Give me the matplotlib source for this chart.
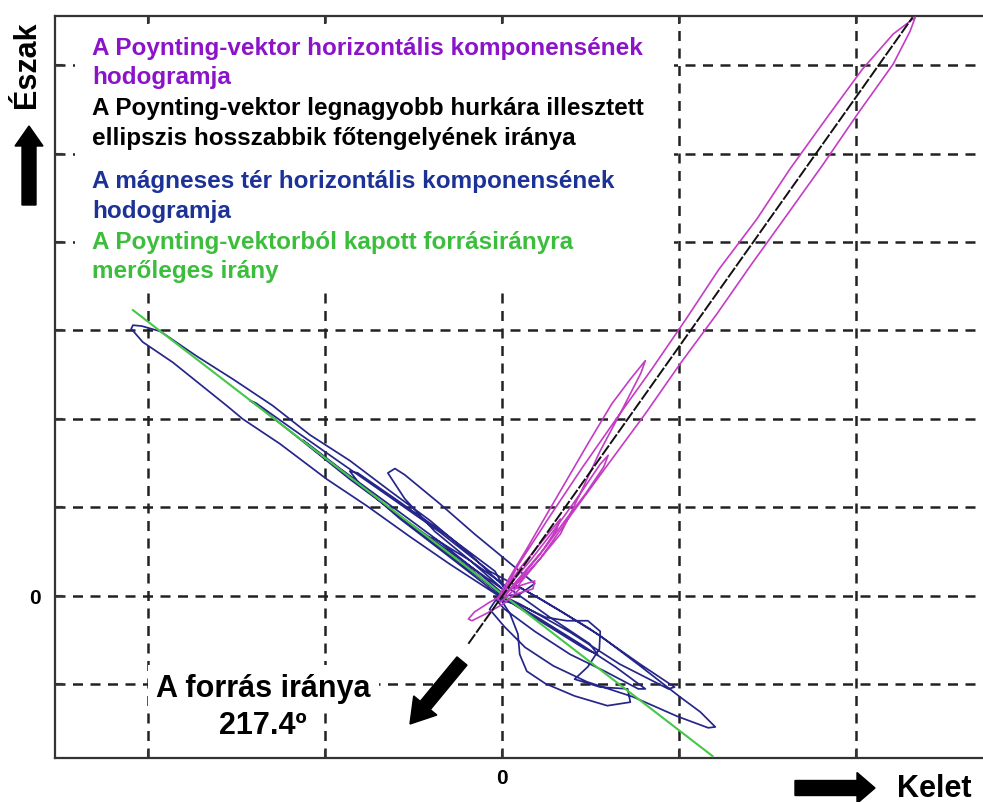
import numpy as np
import matplotlib
matplotlib.use("Agg")
import matplotlib.pyplot as plt
from matplotlib.patches import FancyArrow, Rectangle
from matplotlib.transforms import IdentityTransform

plt.rcParams['font.family'] = ['Liberation Sans', 'DejaVu Sans']

# Horizontal hodograph of the Poynting vector (east, north)
poy_east = [-0.02, 0.19, 0.52, 0.90, 1.29, 1.69, 2.08, 2.45, 2.88, 3.25, 3.66, 4.07, 4.42, 4.67,
            4.61, 4.42, 4.02, 3.63, 3.23, 2.82, 2.43, 2.01, 1.62, 1.20, 0.79, 0.43, 0.15, -0.02,
            -0.05, 0.11, 0.29, 0.51, 0.72, 0.97, 1.24, 1.45, 1.62,
            1.57, 1.36, 1.11, 0.88, 0.66, 0.43, 0.20, 0.03,
            0.03, 0.32, 0.60, 0.88, 1.11, 1.20, 1.15, 0.94, 0.71, 0.49, 0.26, 0.07,
            0.01, 0.20, 0.43, 0.66, 0.62, 0.43, 0.20, 0.03,
            0.01, -0.14, -0.31, -0.38, -0.34, -0.16, 0.03, 0.20,
            0.15, 0.37, 0.35, 0.15]
poy_north = [-0.03, 0.36, 0.87, 1.44, 2.00, 2.56, 3.13, 3.69, 4.26, 4.82, 5.39, 5.95, 6.35, 6.54,
             6.38, 6.01, 5.45, 4.88, 4.32, 3.75, 3.19, 2.62, 2.06, 1.49, 0.93, 0.42, 0.08, -0.07,
             -0.03, 0.25, 0.55, 0.93, 1.29, 1.72, 2.17, 2.45, 2.66,
             2.52, 2.11, 1.64, 1.15, 0.70, 0.42, 0.17, 0.02,
             0.06, 0.40, 0.76, 1.15, 1.49, 1.59, 1.46, 1.15, 0.85, 0.55, 0.28, 0.06,
             0.03, 0.31, 0.59, 0.87, 0.76, 0.47, 0.19, 0.00,
             0.01, -0.07, -0.18, -0.26, -0.28, -0.19, -0.08, 0.08,
             0.10, 0.17, 0.08, 0.02]

# Horizontal hodograph of the magnetic field (east, north)
mag_east = [0.03, -0.36, -0.81, -1.27, -1.72, -2.17, -2.59, -3.04, -3.45, -3.86, -4.07, -4.17, -4.19,
            -4.12, -4.06, -3.72, -3.11, -2.93, -2.51, -1.98, -1.53, -1.04, -0.59, -0.25, -0.02,
            0.03, 0.20, 0.66, 1.11, 1.56, 2.01, 2.24, 2.41, 2.33, 1.98, 1.48, 0.96, 0.58, 0.26, 0.03, -0.14, -0.06,
            0.03, 0.20, 0.49, 0.73, 0.97, 1.11, 1.10, 0.97, 0.82, 1.11, 1.42, 1.45, 1.19, 0.82, 0.49, 0.28,
            0.20, 0.18, 0.09, -0.02,
            -0.02, -0.59, -1.15, -1.72, -2.11, -2.25, -2.18, -1.83, -1.27, -0.70, -0.25, 0.03,
            0.03, -0.59, -1.15, -1.72, -2.28, -2.71, -2.85, -2.78, -2.40, -1.83, -1.27, -0.70, -0.14,
            0.43, 0.99, 1.56, 1.95, 1.88, 1.33, 0.77, 0.20, 0.03,
            0.03, -0.36, -0.76, -1.10, -1.29, -1.21, -1.10, -0.70, -0.31, 0.03, 0.37, 0.20, 0.03,
            -0.02, 0.43, 0.88, 1.28, 1.62, 1.54, 1.16, 0.77, 0.37, 0.03, -0.08,
            -0.02, -0.36, -0.70, -0.84, -0.75, -0.36, 0.09, 0.54, 0.99, 1.08, 0.94, 0.49, 0.03,
            -0.05, -0.59, -1.15, -1.61, -1.72, -1.63, -1.21, -0.64, -0.08, 0.03]
mag_north = [0.10, 0.47, 0.85, 1.19, 1.53, 1.82, 2.15, 2.45, 2.71, 2.99, 3.05, 3.06, 3.02,
             2.94, 2.87, 2.64, 2.15, 2.00, 1.72, 1.32, 1.02, 0.67, 0.36, 0.14, -0.01,
             0.08, 0.10, -0.17, -0.45, -0.79, -1.14, -1.31, -1.48, -1.49, -1.36, -1.14, -0.97, -0.79, -0.58, -0.35, -0.15, -0.03,
             -0.06, -0.10, -0.24, -0.28, -0.28, -0.40, -0.60, -0.80, -0.94, -1.03, -1.05, -1.20, -1.24, -1.13, -0.99, -0.85,
             -0.66, -0.43, -0.20, -0.03,
             0.03, 0.46, 0.89, 1.35, 1.64, 1.76, 1.71, 1.44, 1.03, 0.61, 0.25, 0.01,
             0.06, 0.50, 0.90, 1.32, 1.77, 2.11, 2.21, 2.18, 1.91, 1.51, 1.12, 0.72, 0.28,
             -0.03, -0.37, -0.77, -1.03, -1.05, -0.77, -0.41, -0.09, -0.01,
             0.06, 0.40, 0.73, 1.10, 1.39, 1.44, 1.37, 1.04, 0.70, 0.42, 0.14, 0.02, 0.00,
             0.01, -0.26, -0.54, -0.80, -1.05, -1.05, -0.85, -0.66, -0.40, -0.15, -0.03,
             0.02, 0.31, 0.55, 0.67, 0.64, 0.40, 0.08, -0.24, -0.54, -0.66, -0.60, -0.32, -0.03,
             0.02, 0.44, 0.87, 1.27, 1.41, 1.39, 1.10, 0.70, 0.28, 0.08]

# Major axis of the ellipse fitted to the largest Poynting loop
axis_east = [-0.38, 4.64]
axis_north = [-0.54, 6.54]

# Direction perpendicular to the source direction
perp_east = [-4.17, 2.38]
perp_north = [3.23, -1.81]

x_ticks = [-4, -2, 0, 2, 4]
y_ticks = [-1, 0, 1, 2, 3, 4, 5, 6]

legend_lines = [
    ("A Poynting-vektor horizontális komponensének", "#8c14c8"),
    ("hodogramja", "#8c14c8"),
    ("A Poynting-vektor legnagyobb hurkára illesztett", "#000000"),
    ("ellipszis hosszabbik főtengelyének iránya", "#000000"),
    ("A mágneses tér horizontális komponensének", "#1c3296"),
    ("hodogramja", "#1c3296"),
    ("A Poynting-vektorból kapott forrásirányra", "#3cbe3c"),
    ("merőleges irány", "#3cbe3c"),
]
legend_baselines = [55, 84, 115, 145, 188, 218, 249, 278]

W, H = 983, 803
fig = plt.figure(figsize=(W / 100, H / 100), dpi=100)
ax = fig.add_axes([55 / W, 44 / H, 928 / W, 742 / H])

ax.plot(mag_east, mag_north, color="#26268a", lw=1.25, zorder=2)
ax.plot(perp_east, perp_north, color="#46c846", lw=1.5, zorder=3)
ax.plot(poy_east, poy_north, color="#c43cc4", lw=1.2, zorder=4)
ax.plot(axis_east, axis_north, color="#111111", lw=1.4, ls=(0, (6, 1)), zorder=5)

ax.set_xlim(-5.051, 5.435)
ax.set_ylim(-1.831, 6.554)
ax.set_xticks(x_ticks)
ax.set_xticklabels(["0" if t == 0 else "" for t in x_ticks])
ax.set_yticks(y_ticks)
ax.set_yticklabels(["0" if t == 0 else "" for t in y_ticks])
ax.tick_params(direction="in", length=6, width=1.5, color="#333333",
               labelsize=15, top=True, right=False)
for lbl in ax.get_xticklabels() + ax.get_yticklabels():
    lbl.set_fontweight("bold")
ax.tick_params(axis="x", pad=7)
ax.tick_params(axis="y", pad=10)
ax.set_axisbelow(True)
ax.grid(True, color="#222222", lw=1.8, ls=(0, (4, 3)))
ax.spines["right"].set_visible(False)
for side in ("left", "bottom", "top"):
    ax.spines[side].set_linewidth(1.6)
    ax.spines[side].set_color("#333333")

# white panel behind the legend text
ax.add_patch(Rectangle((0.0216, 0.632), 0.645, 0.352, transform=ax.transAxes,
                       facecolor="white", edgecolor="none", zorder=1))

for (txt, col), yb in zip(legend_lines, legend_baselines):
    fig.text(92 / W, 1 - yb / H, txt, color=col, fontsize=17.5, fontweight="bold",
             ha="left", va="baseline")

fig.text(263 / W, 1 - 697 / H, "A forrás iránya", fontsize=22, fontweight="bold",
         ha="center", va="baseline",
         bbox=dict(facecolor="white", edgecolor="none", pad=6))
fig.text(263 / W, 1 - 734 / H, "217.4º", fontsize=22, fontweight="bold",
         ha="center", va="baseline",
         bbox=dict(facecolor="white", edgecolor="none", pad=6))

fig.text(27 / W, 1 - 65 / H, "Észak", fontsize=22, fontweight="bold",
         rotation=90, ha="center", va="center")
fig.text(897 / W, 1 - 797 / H, "Kelet", fontsize=22, fontweight="bold",
         ha="left", va="baseline")

# compass arrows and the source direction arrow, in pixel units
px = IdentityTransform()
fig.add_artist(FancyArrow(29, H - 206, 0, 79, width=14, head_width=28, head_length=20,
                          length_includes_head=True, color="black", transform=px))
fig.add_artist(FancyArrow(795, H - 789, 80, 0, width=15, head_width=31, head_length=18,
                          length_includes_head=True, color="black", transform=px))
fig.add_artist(FancyArrow(462, H - 662, -52, -63, width=13, head_width=30, head_length=24,
                          length_includes_head=True, color="black", transform=px))

fig.savefig("out.png", dpi=100)
